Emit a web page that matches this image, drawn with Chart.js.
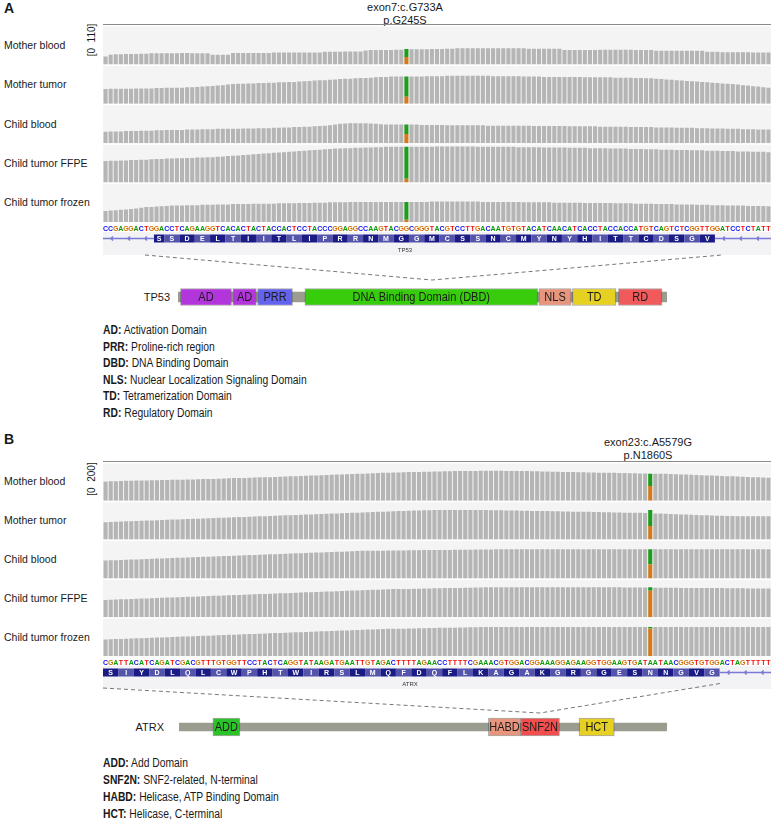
<!DOCTYPE html>
<html><head><meta charset="utf-8">
<script src="https://cdn.jsdelivr.net/npm/chart.js@4.4.1/dist/chart.umd.min.js"></script>
<style>
html,body{margin:0;padding:0;background:#fff}
body{width:771px;height:822px;position:relative;overflow:hidden;font-family:"Liberation Sans",Arial,sans-serif;color:#1a1a1a}
.a{position:absolute;white-space:nowrap}
canvas{position:absolute}
.panel{font-weight:bold;font-size:14px}
.hdr{font-size:11px;line-height:13px;text-align:center;width:200px}
.lbl{font-size:10.5px;line-height:12px}
.rng{font-size:10px;transform:rotate(-90deg);transform-origin:center center;width:40px;text-align:center;line-height:12px}
.leg{font-size:12px;line-height:14px;transform:scaleX(0.86);transform-origin:left center}
.gene{font-size:11px;line-height:14px;text-align:right;width:60px}
.rule{height:1px;background:#8a8a8a}
.allele{font-size:11px;line-height:13px;text-align:center;width:40px}
</style></head><body>

<!-- Panel A text -->
<div class="a panel" style="left:4px;top:0px">A</div>
<div class="a hdr" style="left:305px;top:1px">exon7:c.G733A<br>p.G245S</div>
<div class="a rule" style="left:103px;top:24px;width:668px"></div>
<div class="a rng" style="left:72px;top:34px">[0&nbsp;&nbsp;110]</div>
<div class="a allele" style="left:385px;top:35px"><span style="color:#d17a1e">G</span>&gt;<span style="color:#1e9e1e">A</span></div>
<div id="labelsA"></div>
<div class="a gene" style="left:110px;top:290px">TP53</div>
<div class="a leg" style="left:103px;top:323px"><b>AD:</b> Activation Domain</div>
<div class="a leg" style="left:103px;top:339.5px"><b>PRR:</b> Proline-rich region</div>
<div class="a leg" style="left:103px;top:356px"><b>DBD:</b> DNA Binding Domain</div>
<div class="a leg" style="left:103px;top:372.5px"><b>NLS:</b> Nuclear Localization Signaling Domain</div>
<div class="a leg" style="left:103px;top:389px"><b>TD:</b> Tetramerization Domain</div>
<div class="a leg" style="left:103px;top:405.5px"><b>RD:</b> Regulatory Domain</div>

<!-- Panel B text -->
<div class="a panel" style="left:4px;top:431px">B</div>
<div class="a hdr" style="left:548px;top:436px">exon23:c.A5579G<br>p.N1860S</div>
<div class="a rule" style="left:103px;top:461px;width:668px"></div>
<div class="a rng" style="left:72px;top:473px">[0&nbsp;&nbsp;200]</div>
<div class="a allele" style="left:628px;top:462px"><span style="color:#1e9e1e">A</span>&gt;<span style="color:#d17a1e">G</span></div>
<div id="labelsB"></div>
<div class="a gene" style="left:104px;top:720px">ATRX</div>
<div class="a leg" style="left:103px;top:756px"><b>ADD:</b> Add Domain</div>
<div class="a leg" style="left:103px;top:773px"><b>SNF2N:</b> SNF2-related, N-terminal</div>
<div class="a leg" style="left:103px;top:790px"><b>HABD:</b> Helicase, ATP Binding Domain</div>
<div class="a leg" style="left:103px;top:807px"><b>HCT:</b> Helicase, C-terminal</div>

<canvas id="covA" width="771" height="232" style="left:0;top:25px"></canvas>
<canvas id="covB" width="771" height="229" style="left:0;top:462px"></canvas>
<canvas id="domA" width="771" height="62" style="left:0;top:252px"></canvas>
<canvas id="domB" width="771" height="64" style="left:0;top:680px"></canvas>

<script>
// ---------------- DATA ----------------
const trackNames = ["Mother blood", "Mother tumor", "Child blood", "Child tumor FFPE", "Child tumor frozen"];

// Panel A : TP53 exon 7 (displayed bases, left to right)
const basesA = ("CCGAGGACTG" +
  "GACCTCAGAAGGTCACACTACTACCACTCCTACCCGGAGGCCAAGTACGGCGGGTACGTCCTTGACAATGTGTACATCAACATCACCTACCACCATGTCAGTCTCGGTTG" +
  "GATCCTCTATT").split("");
const aminoA = "SSDELTIITLIPRRNMGGMCSSNCMYNYHITTCDSGV".split("");
const aminoStartA = 10;      // first base covered by the amino-acid track
const firstCodonLenA = 2;    // partial first codon
const variantIndexA = 59;    // c.G733A
const rangeA = 110;
const covA_motherBlood = [22,27,28,28,29,29,29,30,30,31,31,31,31,31,31,32,32,31,31,31,31,27,27,27,27,32,32,32,32,32,32,32,32,33,33,33,33,33,33,33,33,33,33,35,35,35,35,36,36,36,36,39,40,40,40,40,40,41,41,43,42,42,42,42,43,43,43,44,44,45,45,45,45,45,45,45,45,45,45,45,45,45,45,44,44,44,44,44,44,44,40,40,40,40,40,40,40,41,41,41,41,41,41,41,40,40,40,40,38,38,38,38,38,38,38,38,38,38,35,35,35,34,34,34,34,34,34,33,33,33,33];
const covA_motherTumor = [41,42,42,42,42,42,43,43,43,43,44,44,45,45,45,45,46,46,47,48,49,50,51,52,54,55,56,56,57,57,58,58,59,59,60,60,61,61,62,63,64,65,66,66,67,68,69,70,70,71,72,72,73,74,75,75,76,76,76,76,76,76,76,77,77,77,77,78,78,78,78,78,78,78,78,78,77,77,77,77,77,77,76,76,76,76,75,75,75,75,75,75,75,75,74,74,74,74,74,74,73,73,73,73,72,72,71,71,70,69,68,67,66,65,64,63,62,61,60,59,58,57,56,55,54,52,51,49,48,46,45];
const covA_childBlood = [32,33,33,33,34,34,34,35,35,35,36,36,37,37,37,37,38,38,38,39,39,39,40,40,40,40,40,41,41,41,42,42,42,43,43,44,44,45,45,46,46,47,48,49,50,52,54,55,56,56,56,56,55,54,53,52,52,52,52,52,52,52,51,51,51,51,51,50,50,50,50,50,50,50,50,49,49,49,49,49,49,49,49,49,48,48,48,48,48,48,48,47,47,47,47,47,47,46,46,46,46,46,46,45,45,45,45,45,44,44,44,44,43,43,43,43,42,42,42,41,41,41,40,40,40,39,39,39,38,38,38];
const covA_childFFPE = [60,61,61,62,62,63,63,64,64,65,66,66,67,67,68,68,69,69,70,70,71,71,72,73,74,75,76,77,78,79,80,81,82,83,84,85,86,87,88,89,90,91,92,93,94,95,95,96,96,97,97,98,98,99,99,100,100,100,100,100,100,100,100,100,100,101,101,101,101,101,101,101,101,100,100,100,100,100,100,100,100,99,99,99,99,99,98,98,98,98,98,97,97,97,97,96,96,96,96,95,95,95,95,94,94,94,93,93,93,92,92,92,91,91,91,90,90,90,89,89,89,88,88,88,87,87,87,86,86,86,85];
const covA_childFrozen = [31,32,33,34,35,36,38,40,42,42,43,44,45,46,46,46,47,47,47,48,48,48,49,49,49,50,50,50,50,51,51,51,51,51,52,52,52,52,53,53,53,54,54,54,55,55,55,55,56,56,56,56,56,56,56,56,56,56,56,56,56,56,56,56,57,57,57,57,57,57,57,57,57,57,56,56,56,56,56,56,56,56,55,55,55,55,55,55,54,54,54,54,54,54,53,53,53,53,53,53,52,52,52,52,51,51,51,51,50,50,50,50,49,49,49,49,48,48,48,47,47,47,46,46,46,46,45,45,45,45,44];
const gCountsA = [21, 20, 26, 11, 6];   // reference G (orange)
const aCountsA = [22, 56, 26, 89, 50];  // alternate A (green)

// Panel B : ATRX exon 23
const basesB = ("CGATTACATCAGATCGACGTTTGTGGTTCCTACTCAGGTATAAGATGAATTGTAGACTTTTAGAACCTTTTCGAAACGTGGACGGAAAGGAGAAGGTGGAAGTGATAATAACGGGTGTGG" +
  "ACTAGTTTTT").split("");
const aminoB = "SIYDLQLCWPHTWIRSLMQFDQFLKAGAKGRGGESNNGVG".split("");
const aminoStartB = 0;
const firstCodonLenB = 3;
const variantIndexB = 106;   // c.A5579G
const rangeB = 200;
const covB_motherBlood = [100,101,101,102,103,103,104,104,105,106,106,107,107,108,108,109,110,110,111,112,113,113,114,115,116,117,118,118,119,120,121,122,122,123,124,125,126,127,128,129,130,131,132,133,134,135,136,137,138,139,140,141,142,143,144,145,146,146,147,148,149,149,150,150,151,151,152,152,153,153,154,154,154,155,155,155,155,155,154,154,154,153,153,152,152,151,151,150,150,149,148,148,147,147,146,146,145,145,144,144,143,143,142,142,141,141,140,140,139,139,138,137,136,135,134,133,132,131,130,129,128,127,126,125,124,123,122,121,120,119];
const covB_motherTumor = [90,91,92,93,94,95,96,97,98,99,100,101,102,103,104,105,106,107,108,109,110,111,112,113,114,115,116,117,118,119,120,121,122,123,124,125,126,127,128,129,130,131,132,133,134,135,136,137,138,139,140,141,142,143,144,145,146,147,148,149,150,150,151,151,152,152,152,152,152,152,152,152,152,152,152,151,151,151,150,150,150,149,149,148,148,147,147,146,146,145,145,144,144,143,143,142,142,141,141,140,140,139,139,138,138,137,136,135,134,133,132,131,130,129,128,127,126,125,124,123,123,122,122,121,121,120,120,120,120,120];
const covB_childBlood = [92,93,94,95,96,97,98,99,100,101,102,103,104,105,106,107,108,109,110,111,112,113,114,115,116,117,118,119,120,121,122,123,124,125,126,127,128,129,130,131,132,133,134,135,136,137,138,139,140,141,142,142,143,143,143,144,144,144,144,145,145,145,146,146,146,147,147,147,148,148,148,148,149,149,149,149,150,150,150,150,150,150,150,150,150,150,150,150,150,150,150,150,150,150,150,150,150,150,150,150,150,150,150,150,150,150,150,150,150,150,150,150,150,150,150,150,150,150,150,150,150,150,150,150,150,150,150,150,150,150];
const covB_childFFPE = [89,90,91,92,93,94,95,96,97,98,99,100,101,102,103,104,105,106,107,108,109,110,111,112,113,114,115,116,117,118,119,120,121,122,123,124,125,126,127,128,129,130,131,132,133,134,135,136,137,138,139,140,141,142,143,144,145,145,146,146,147,147,148,148,149,149,150,150,151,151,152,152,153,153,154,154,155,155,155,155,155,155,155,155,155,155,155,155,155,155,155,155,155,155,155,154,154,154,154,154,154,153,153,153,153,153,153,152,152,152,152,152,151,151,151,151,150,150,150,150,150,149,149,149,149,148,148,148,148,148];
const covB_childFrozen = [85,86,87,88,89,90,91,92,93,94,95,96,97,98,99,100,101,102,103,104,105,106,107,108,109,110,111,112,113,114,115,116,117,118,119,120,121,122,123,124,125,126,127,128,129,130,131,132,133,134,135,136,137,138,139,140,140,141,141,142,142,143,143,144,144,145,145,146,146,147,147,148,148,149,149,150,150,150,150,150,150,150,150,150,150,150,150,150,150,150,150,150,150,150,150,150,150,150,150,150,150,150,150,150,150,150,150,150,150,150,150,150,150,150,150,150,150,150,150,150,150,150,150,150,150,150,150,150,150,150];
const gCountsB = [76, 70, 72, 136, 142];  // alternate G (orange)
const aCountsB = [64, 82, 78, 19, 8];     // reference A (green)

// Protein diagrams
const tp53Length = 393;
const tp53DomainNames  = ["AD", "AD", "PRR", "DNA Binding Domain (DBD)", "NLS", "TD", "RD"];
const tp53DomainStarts = [2, 44, 64, 102, 290, 317, 354];
const tp53DomainEnds   = [43, 63, 92, 289, 316, 352, 389];
const atrxLength = 2492;
const atrxDomainNames  = ["ADD", "HABD", "SNF2N", "HCT"];
const atrxDomainStarts = [173, 1580, 1744, 2043];
const atrxDomainEnds   = [311, 1744, 1943, 2223];

// ---------------- STYLES ----------------
const COL = {bar:"#b5b5b5", bg:"#f4f4f4", G:"#d57a1c", A:"#1f9c1f",
  base:{A:"#0a9a0a", C:"#1010ee", G:"#d17105", T:"#ee1010"},
  aaDark:"#1b1b85", aaLight:"#5454ac", intron:"#7a7ad4", band:"#f3f3f6", backbone:"#9b9d90"};
const tp53Colors = ["#b336dc", "#b336dc", "#6363ee", "#37cc0c", "#e8957e", "#e6d021", "#f05a5a"];
const atrxColors = ["#2cc22a", "#e8957e", "#f24e4e", "#e6d021"];

// ---------------- HTML track labels ----------------
function placeLabels(divId, top, trackH) {
  const host = document.getElementById(divId);
  trackNames.forEach((nm, k) => {
    const d = document.createElement("div");
    d.className = "a lbl";
    d.style.left = "4px";
    d.style.top = (top + trackH * (k + 0.5) - 6) + "px";
    d.textContent = nm;
    host.appendChild(d);
  });
}
placeLabels("labelsA", 25, 39.4);
placeLabels("labelsB", 462, 38.8);

// ---------------- coverage chart ----------------
const coveragePlugin = {
  id: "coverageDeco",
  beforeDatasetsDraw(chart, args, opts) {
    const ctx = chart.ctx, ca = chart.chartArea;
    ctx.save();
    ctx.fillStyle = COL.bg;
    Object.values(chart.scales).forEach(s => {
      if (s.axis === "y") ctx.fillRect(ca.left, s.top + 1.5, ca.right - ca.left, s.bottom - s.top - 1.5);
    });
    ctx.restore();
  },
  afterDatasetsDraw(chart, args, opts) {
    const ctx = chart.ctx, ca = chart.chartArea, xs = chart.scales.x;
    const p = opts.panel;
    const half = (xs.getPixelForValue(1) - xs.getPixelForValue(0)) / 2;
    const b = ca.bottom;
    ctx.save();
    ctx.fillStyle = COL.band;
    ctx.fillRect(ca.left, b + 10, ca.right - ca.left, 23);
    ctx.font = "bold 7px 'Liberation Sans', Arial";
    ctx.textAlign = "center"; ctx.textBaseline = "middle";
    p.bases.forEach((c, i) => {
      ctx.fillStyle = COL.base[c];
      ctx.fillText(c, xs.getPixelForValue(i), b + 7);
    });
    let start = p.aaStart;
    const yTop = b + 12.5, h = 8;
    let x0 = xs.getPixelForValue(start) - half, xEnd = x0;
    p.amino.forEach((aa, k) => {
      const len = k === 0 ? p.firstLen : 3;
      const a = xs.getPixelForValue(start) - half;
      const e = xs.getPixelForValue(start + len - 1) + half;
      ctx.fillStyle = k % 2 === 0 ? COL.aaDark : COL.aaLight;
      ctx.fillRect(a, yTop, e - a, h);
      ctx.fillStyle = "#fff";
      ctx.fillText(aa, (a + e) / 2, yTop + h / 2 + 0.5);
      start += len; xEnd = e;
    });
    ctx.strokeStyle = COL.intron; ctx.lineWidth = 1.5;
    const yMid = yTop + h / 2;
    const seg = (l, r) => {
      if (r - l < 2) return;
      ctx.beginPath(); ctx.moveTo(l, yMid); ctx.lineTo(r, yMid); ctx.stroke();
      for (let x = l + 8; x < r - 4; x += 17) {
        ctx.beginPath(); ctx.moveTo(x + 2, yMid - 2); ctx.lineTo(x, yMid); ctx.lineTo(x + 2, yMid + 2); ctx.stroke();
      }
    };
    seg(ca.left, x0); seg(xEnd, ca.right);
    ctx.fillStyle = "#333"; ctx.font = "6px 'Liberation Sans', Arial";
    ctx.fillText(p.gene, p.geneX, b + 28);
    ctx.restore();
  }
};

function coverageChart(id, p) {
  const scales = {x: {type: "category", display: false, offset: true}};
  const datasets = [];
  p.tracks.forEach((cov, t) => {
    const yid = "y" + t;
    scales[yid] = {type: "linear", position: "right", stack: "tracks", stackWeight: 1, min: 0, max: p.range,
      stacked: true, display: true, grid: {display: false, drawTicks: false}, ticks: {display: false}, border: {display: false}};
    datasets.push({data: cov.map((v, i) => i === p.varIdx ? null : v), yAxisID: yid, backgroundColor: COL.bar});
    datasets.push({data: cov.map((v, i) => i === p.varIdx ? p.gCounts[t] : null), yAxisID: yid, backgroundColor: COL.G});
    datasets.push({data: cov.map((v, i) => i === p.varIdx ? p.aCounts[t] : null), yAxisID: yid, backgroundColor: COL.A});
  });
  return new Chart(document.getElementById(id), {
    type: "bar",
    data: {labels: p.bases, datasets},
    options: {
      responsive: false, animation: false, devicePixelRatio: 1, events: [],
      layout: {padding: {left: 103, right: 0, top: 0, bottom: p.bottomPad}},
      datasets: {bar: {grouped: false, barPercentage: 0.8, categoryPercentage: 1, borderWidth: 0}},
      scales,
      plugins: {legend: {display: false}, tooltip: {enabled: false}, coverageDeco: {panel: p}}
    },
    plugins: [coveragePlugin]
  });
}

coverageChart("covA", {bases: basesA, amino: aminoA, aaStart: aminoStartA, firstLen: firstCodonLenA,
  varIdx: variantIndexA, range: rangeA, gene: "TP53", geneX: 405, bottomPad: 35,
  tracks: [covA_motherBlood, covA_motherTumor, covA_childBlood, covA_childFFPE, covA_childFrozen],
  gCounts: gCountsA, aCounts: aCountsA});
coverageChart("covB", {bases: basesB, amino: aminoB, aaStart: aminoStartB, firstLen: firstCodonLenB,
  varIdx: variantIndexB, range: rangeB, gene: "ATRX", geneX: 410, bottomPad: 35,
  tracks: [covB_motherBlood, covB_motherTumor, covB_childBlood, covB_childFFPE, covB_childFrozen],
  gCounts: gCountsB, aCounts: aCountsB});

// ---------------- domain charts ----------------
const domainPlugin = {
  id: "domainDeco",
  afterDatasetsDraw(chart, args, opts) {
    const ctx = chart.ctx;
    ctx.save();
    ctx.strokeStyle = "#777"; ctx.lineWidth = 1; ctx.setLineDash([4, 3]);
    const z = opts.zoom;
    ctx.beginPath(); ctx.moveTo(z[0], z[1]); ctx.lineTo(z[2], z[3]); ctx.lineTo(z[4], z[5]); ctx.stroke();
    ctx.setLineDash([]);
    ctx.font = "12.5px 'Liberation Sans', Arial";
    ctx.textAlign = "center"; ctx.textBaseline = "middle"; ctx.fillStyle = "#1c1c1c";
    opts.names.forEach((nm, k) => {
      const el = chart.getDatasetMeta(k).data[0];
      ctx.save();
      ctx.translate((el.x + el.base) / 2, el.y + 0.5);
      ctx.scale(0.88, 1);
      ctx.fillText(nm, 0, 0);
      ctx.restore();
    });
    ctx.restore();
  }
};

function domainChart(id, p) {
  const datasets = [];
  p.names.forEach((nm, k) => datasets.push({
    data: [[p.starts[k], p.ends[k]]], backgroundColor: p.colors[k], borderColor: "rgba(60,60,60,0.45)",
    borderWidth: 1, borderSkipped: false, barThickness: p.boxH, order: 0}));
  // backbone drawn underneath the domains
  datasets.push({data: [[0, p.length]], backgroundColor: COL.backbone, barThickness: p.backboneH, borderWidth: 0, order: 1});
  return new Chart(document.getElementById(id), {
    type: "bar",
    data: {labels: [p.gene], datasets},
    options: {
      indexAxis: "y", responsive: false, animation: false, devicePixelRatio: 1, events: [],
      layout: {padding: {left: p.left, right: p.right, top: p.top, bottom: 0}},
      datasets: {bar: {grouped: false}},
      scales: {x: {type: "linear", min: 0, max: p.length, display: false}, y: {type: "category", display: false}},
      plugins: {legend: {display: false}, tooltip: {enabled: false}, domainDeco: {names: p.names, zoom: p.zoom}}
    },
    plugins: [domainPlugin]
  });
}

domainChart("domA", {gene: "TP53", length: tp53Length, names: tp53DomainNames, starts: tp53DomainStarts,
  ends: tp53DomainEnds, colors: tp53Colors, left: 178, right: 104, top: 28, backboneH: 10, boxH: 17,
  zoom: [145, 3, 432, 28, 722, 3]});
domainChart("domB", {gene: "ATRX", length: atrxLength, names: atrxDomainNames, starts: atrxDomainStarts,
  ends: atrxDomainEnds, colors: atrxColors, left: 179, right: 104, top: 30, backboneH: 8, boxH: 18,
  zoom: [103, 8, 540, 33, 723, 3]});
</script>
</body></html>
